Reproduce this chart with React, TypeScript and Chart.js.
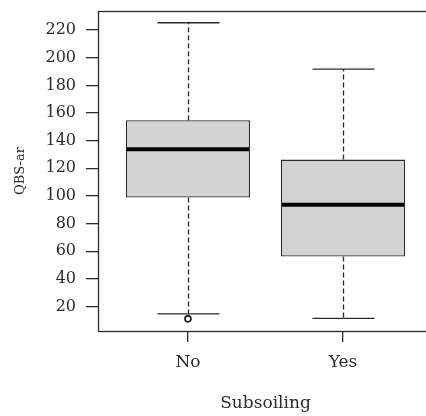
import React, { useEffect, useRef } from "react";
import { Chart, registerables } from "chart.js";

Chart.register(...registerables);

const CATEGORIES = ["No", "Yes"];
const WHISKER_LOW = [14.7, 11.5];
const Q1 = [98.8, 56.2];
const MEDIAN = [133.8, 93.7];
const Q3 = [154.8, 126.3];
const WHISKER_HIGH = [225.3, 191.8];
const OUTLIERS = [[11.1], []];
const Y_TICKS = [20, 40, 60, 80, 100, 120, 140, 160, 180, 200, 220];
const X_TITLE = "Subsoiling";
const Y_TITLE = "QBS-ar";

const FONT = "'DejaVu Serif', serif";
const INK = "#2b2b2b";

const boxPlugin = {
  id: "boxParts",
  beforeDatasetsDraw(chart: any) {
    const { ctx } = chart;
    const x = chart.scales.x;
    const y = chart.scales.y;
    const half = (x.getPixelForValue(1.4) - x.getPixelForValue(1)) / 2;
    ctx.save();
    ctx.strokeStyle = INK;
    ctx.lineWidth = 1.3;
    CATEGORIES.forEach((_, i) => {
      const cx = Math.round(x.getPixelForValue(i + 1)) + 0.5;
      ctx.setLineDash([5, 3]);
      ctx.beginPath();
      ctx.moveTo(cx, y.getPixelForValue(Q3[i]));
      ctx.lineTo(cx, y.getPixelForValue(WHISKER_HIGH[i]));
      ctx.moveTo(cx, y.getPixelForValue(Q1[i]));
      ctx.lineTo(cx, y.getPixelForValue(WHISKER_LOW[i]));
      ctx.stroke();
      ctx.setLineDash([]);
      ctx.beginPath();
      const hy = y.getPixelForValue(WHISKER_HIGH[i]);
      const ly = y.getPixelForValue(WHISKER_LOW[i]);
      ctx.moveTo(cx - half, hy);
      ctx.lineTo(cx + half, hy);
      ctx.moveTo(cx - half, ly);
      ctx.lineTo(cx + half, ly);
      ctx.stroke();
    });
    ctx.restore();
  },
  afterDatasetDraw(chart: any, args: any) {
    if (args.index !== 0) return;
    const { ctx } = chart;
    const x = chart.scales.x;
    const y = chart.scales.y;
    const half = x.getPixelForValue(1.4) - x.getPixelForValue(1);
    ctx.save();
    ctx.strokeStyle = "#000000";
    ctx.lineWidth = 4;
    CATEGORIES.forEach((_, i) => {
      const cx = x.getPixelForValue(i + 1);
      const my = y.getPixelForValue(MEDIAN[i]);
      ctx.beginPath();
      ctx.moveTo(cx - half + 1, my);
      ctx.lineTo(cx + half - 1, my);
      ctx.stroke();
    });
    ctx.restore();
  },
  afterDraw(chart: any) {
    const { ctx, chartArea } = chart;
    ctx.save();
    ctx.strokeStyle = INK;
    ctx.lineWidth = 1.3;
    ctx.strokeRect(
      Math.round(chartArea.left) + 0.5,
      Math.round(chartArea.top) + 0.5,
      Math.round(chartArea.right - chartArea.left),
      Math.round(chartArea.bottom - chartArea.top)
    );
    ctx.restore();
  },
};

export default function App() {
  const ref = useRef<HTMLCanvasElement | null>(null);

  useEffect(() => {
    if (!ref.current) return;
    const chart = new Chart(ref.current, {
      type: "bar",
      data: {
        datasets: [
          {
            type: "bar",
            data: CATEGORIES.map((_, i) => ({ x: i + 1, y: [Q1[i], Q3[i]] })) as any,
            backgroundColor: "#d3d3d3",
            borderColor: INK,
            borderWidth: 1.3,
            borderSkipped: false,
            categoryPercentage: 1,
            barPercentage: 0.8,
          },
          {
            type: "scatter",
            data: OUTLIERS.flatMap((arr, i) => arr.map((v) => ({ x: i + 1, y: v }))) as any,
            pointRadius: 3,
            pointBackgroundColor: "#ffffff",
            pointBorderColor: "#111111",
            pointBorderWidth: 1.6,
          },
        ],
      },
      options: {
        animation: false,
        responsive: false,
        devicePixelRatio: 1,
        layout: { padding: { left: 0, top: 11, right: 12, bottom: 0 } },
        plugins: {
          legend: { display: false },
          tooltip: { enabled: false },
        },
        scales: {
          x: {
            type: "linear",
            min: 0.42,
            max: 2.58,
            offset: false,
            afterBuildTicks: (s: any) => {
              s.ticks = CATEGORIES.map((_, i) => ({ value: i + 1 }));
            },
            afterFit: (s: any) => {
              s.height = 85;
              s.paddingLeft = 0;
              s.paddingRight = 0;
            },
            border: { display: false },
            grid: {
              offset: false,
              drawOnChartArea: false,
              drawTicks: true,
              tickLength: 11,
              color: INK,
              lineWidth: 1.3,
            },
            ticks: {
              padding: 10,
              color: INK,
              font: { family: FONT, size: 17 },
              maxRotation: 0,
              autoSkip: false,
              callback: (v: any) => CATEGORIES[Number(v) - 1] ?? "",
            },
            title: {
              display: true,
              text: X_TITLE,
              color: INK,
              font: { family: FONT, size: 17 },
              padding: { top: 0, bottom: 2 },
            },
          },
          y: {
            type: "linear",
            min: 2.3,
            max: 233.8,
            afterBuildTicks: (s: any) => {
              s.ticks = Y_TICKS.map((v) => ({ value: v }));
            },
            afterFit: (s: any) => {
              s.width = 98;
              s.paddingTop = 0;
              s.paddingBottom = 0;
            },
            border: { display: false },
            grid: {
              drawOnChartArea: false,
              drawTicks: true,
              tickLength: 12,
              color: INK,
              lineWidth: 1.3,
            },
            ticks: {
              padding: 10,
              color: INK,
              font: { family: FONT, size: 16 },
              autoSkip: false,
            },
            title: {
              display: true,
              text: Y_TITLE,
              color: INK,
              font: { family: FONT, size: 13 },
              padding: { top: 13.2, bottom: 0 },
            },
          },
        },
      },
      plugins: [boxPlugin],
    });
    return () => chart.destroy();
  }, []);

  return (
    <div
      style={{
        position: "fixed",
        left: 0,
        top: 0,
        width: 426,
        height: 416,
        overflow: "hidden",
        background: "#ffffff",
      }}
    >
      <canvas ref={ref} width={445} height={416} style={{ width: 445, height: 416, display: "block" }} />
    </div>
  );
}
